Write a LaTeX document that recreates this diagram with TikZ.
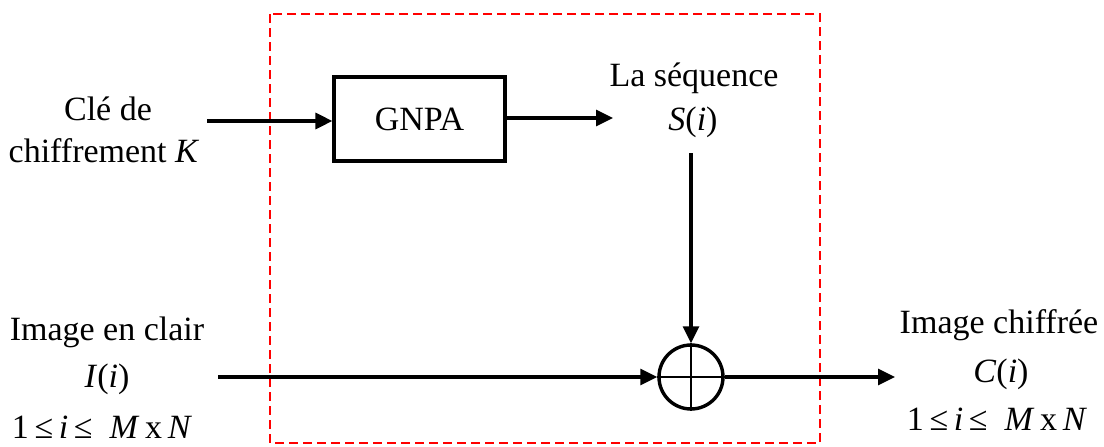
\documentclass[tikz,border=0pt]{standalone}
\usepackage{fontspec}
\setmainfont{Liberation Serif}
\usetikzlibrary{arrows.meta}
\tikzset{
  lbl/.style={anchor=base, inner sep=0pt, font=\fontsize{34}{38}\selectfont},
  conn/.style={line width=3.2pt, -{Triangle[length=17pt,width=16pt]}},
  blockbox/.style={draw, line width=3.2pt, minimum width=171pt, minimum height=84pt, inner sep=0pt, font=\fontsize{34}{38}\selectfont},
  xorc/.style={draw, circle, line width=3.4pt, minimum size=64pt, inner sep=0pt},
  frame/.style={draw=red, line width=2.4pt, dash pattern=on 9pt off 5pt}
}
\begin{document}
\begin{tikzpicture}[x=1pt,y=-1pt]
\useasboundingbox (0,0) rectangle (1104,447);
\fill[white] (0,0) rectangle (1104,447);
% red dashed frame
\draw[frame] (270,14) rectangle (820,443);
% blocks
\node[blockbox] (gnpa) at (419.5,119) {GNPA};
\node[xorc] (xor) at (691,377) {};
\draw[line width=2.2pt] (xor.north) -- (xor.south);
\draw[line width=2.2pt] (xor.west) -- (xor.east);
% texts left
\node[lbl] (k1) at (108,120) {Clé de};
\node[lbl] (k2) at (104,162) {chiffrement \textit{K}};
\node[lbl] (im1) at (107,340) {Image en clair};
\node[lbl] (im2) at (107,387) {\textit{I}(\textit{i})};
\node[lbl] (im3) at (102,438) {1\,≤\,\textit{i}\,≤\ \ \textit{M}\,x\,\textit{N}};
% texts top
\node[lbl] (s1) at (694,86) {La séquence};
\node[lbl] (s2) at (693,130) {\textit{S}(\textit{i})};
% texts right
\node[lbl] (c1) at (999,333) {Image chiffrée};
\node[lbl] (c2) at (1001,382) {\textit{C}(\textit{i})};
\node[lbl] (c3) at (997,430) {1\,≤\,\textit{i}\,≤\ \ \textit{M}\,x\,\textit{N}};
% connector endpoints
\coordinate (kstart) at (207,121);
\coordinate (seqend) at (613,118);
\coordinate (sstart) at (691,153);
\coordinate (istart) at (218,377);
\coordinate (cend) at (895,377);
% connectors
\draw[conn] (kstart) -- (kstart -| gnpa.west);
\draw[conn] (gnpa.east |- seqend) -- (seqend);
\draw[conn] (sstart) -- (xor.north);
\draw[conn] (istart) -- (xor.west);
\draw[conn] (xor.east) -- (cend);
\end{tikzpicture}
\end{document}
